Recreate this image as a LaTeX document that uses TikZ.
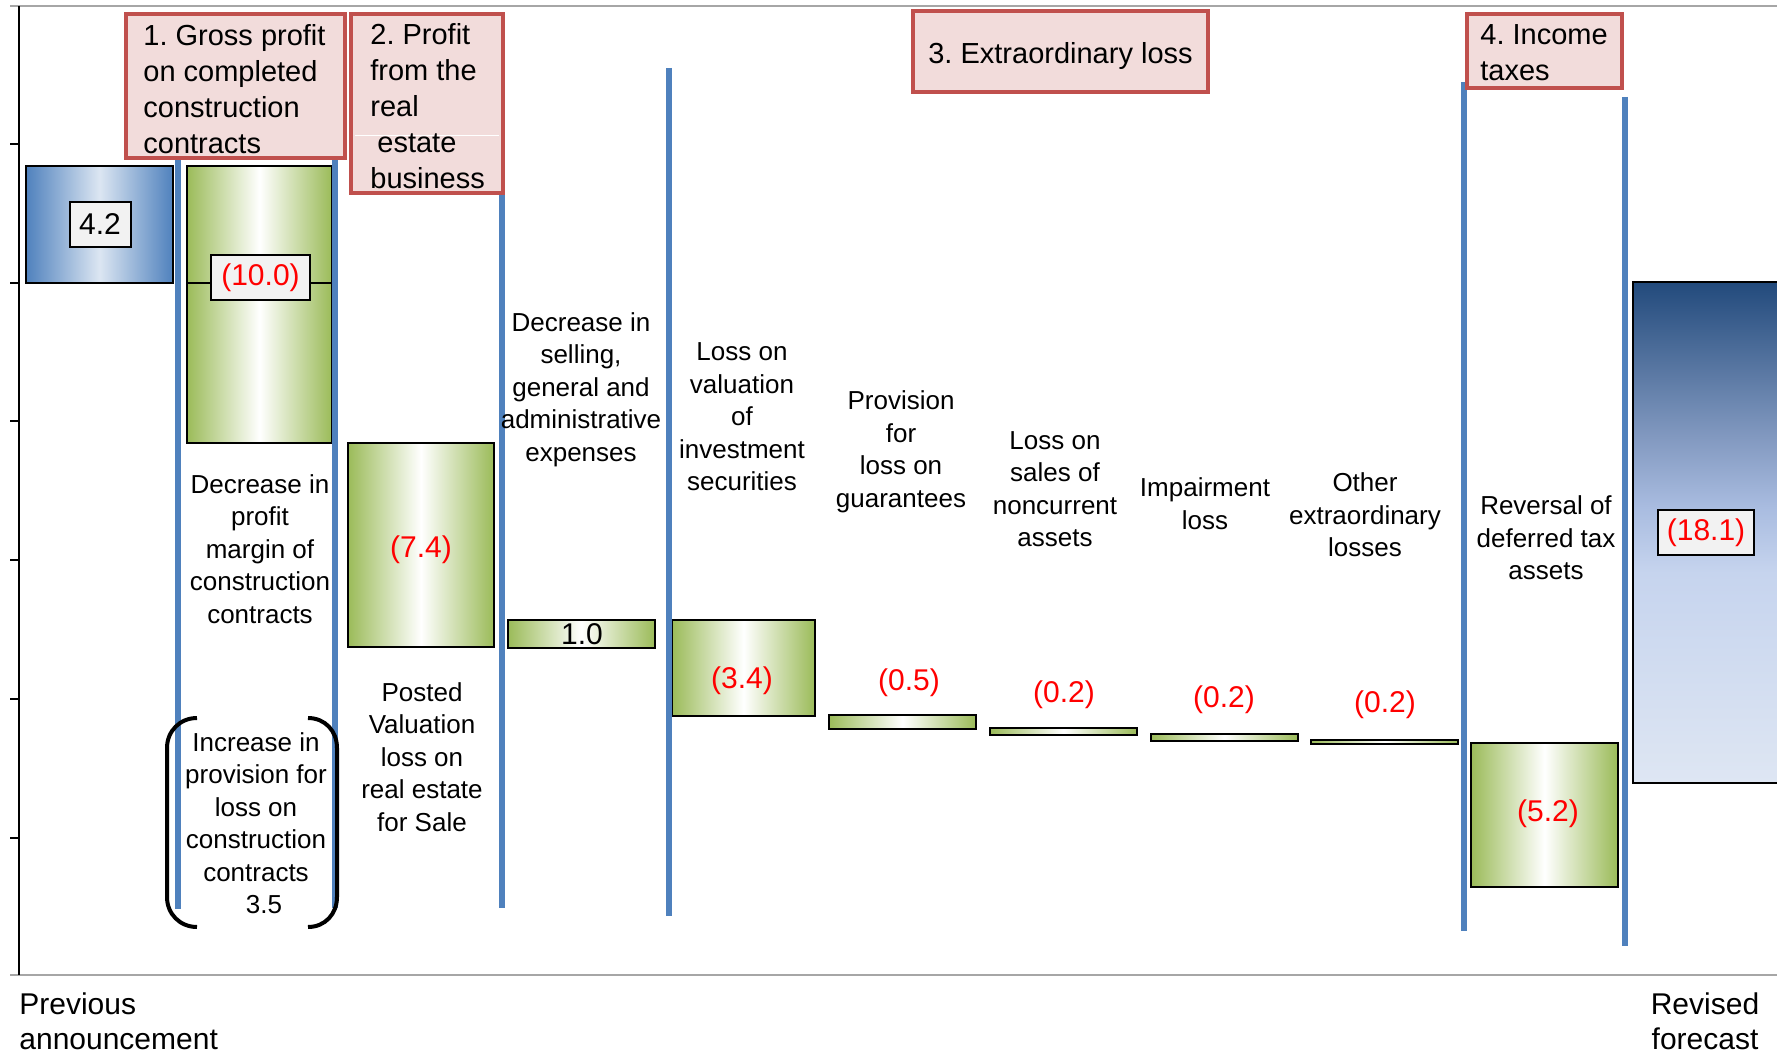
\documentclass[tikz,border=0pt]{standalone}
\usepackage{fontspec}
\setmainfont{Liberation Sans}
\frenchspacing
\definecolor{bline}{HTML}{4F81BD}
\definecolor{gbar}{HTML}{9BBB59}
\definecolor{bdark}{HTML}{4F81BD}
\definecolor{blight}{HTML}{DCE6F2}
\definecolor{revA}{HTML}{224A7C}
\definecolor{revB}{HTML}{5A78A3}
\definecolor{revC}{HTML}{8299C0}
\definecolor{revD}{HTML}{A9BCE0}
\definecolor{revE}{HTML}{C6D4EE}
\definecolor{revF}{HTML}{DEE6F3}
\definecolor{boxfill}{HTML}{F2DCDB}
\definecolor{boxdraw}{HTML}{C0504D}
\definecolor{lblfill}{HTML}{F2F2F2}
\definecolor{axgray}{HTML}{A6A6A6}
\pgfdeclareverticalshading{revshade}{100bp}{color(0bp)=(revF); color(25bp)=(revF); color(46bp)=(revE); color(52.5bp)=(revD); color(59.5bp)=(revC); color(66bp)=(revB); color(75bp)=(revA); color(100bp)=(revA)}
\begin{document}
\frenchspacing
\begin{tikzpicture}[x=0.5pt,y=-0.5pt,
  gbarstyle/.style={draw=black, line width=1pt, left color=gbar, right color=gbar, middle color=white},
  vline/.style={draw=bline, line width=3pt},
  titlebox/.style={draw=boxdraw, fill=boxfill, line width=1.7pt},
  titletext/.style={inner sep=0pt, align=left, font=\fontsize{14.5}{18}\selectfont},
  cattext/.style={inner sep=0pt, align=center, font=\fontsize{13}{16.25}\selectfont},
  valtext/.style={inner sep=0pt, text=red, font=\fontsize{15}{18}\selectfont},
  valbox/.style={draw=black, fill=lblfill, line width=1pt, inner sep=0pt, minimum height=22.5pt, font=\fontsize{15}{18}\selectfont},
  bottomtext/.style={inner sep=0pt, font=\fontsize{15}{17.5}\selectfont},
  bracketline/.style={draw=black, line width=2pt},
  axisline/.style={draw=axgray, line width=1pt}
]
\useasboundingbox (0,0) rectangle (1777,1053);
\clip (0,0) rectangle (1777,1053);
\fill[white] (0,0) rectangle (1777,1053);

% axes
\draw[axisline] (10,6) -- (1777,6);
\draw[axisline] (10,975) -- (1777,975);
\draw[black, line width=1pt] (19,6) -- (19,975);
\foreach \ty in {144,283,421,560,699,838}
  \draw[black, line width=1pt] (10,\ty) -- (19,\ty);

% bars
\path[draw=black, line width=1pt, left color=bdark, right color=bdark, middle color=blight] (26,166) rectangle (173,283);
\path[gbarstyle] (187,166) rectangle (332,443);
\path[gbarstyle] (348,443) rectangle (494,647);
\path[gbarstyle] (508,620) rectangle (655,648);
\path[gbarstyle] (672,620) rectangle (815,716);
\path[gbarstyle] (829,715) rectangle (976,729);
\path[gbarstyle] (990,728) rectangle (1137,735);
\path[gbarstyle] (1151,734) rectangle (1298,741);
\path[gbarstyle] (1311,740) rectangle (1458,744);
\path[gbarstyle] (1471,743) rectangle (1618,887);
\path[draw=black, line width=1pt, shading=revshade] (1633,282) rectangle (1800,783);

% connector through first green bar
\coordinate (c1) at (187,283);
\coordinate (c2) at (332,283);
\draw[black, line width=1pt] (c1) -- (c2);

% blue separators
\draw[vline] (178,160) -- (178,909);
\draw[vline] (335,160) -- (335,908);
\draw[vline] (502,57) -- (502,908);
\draw[vline] (669,68) -- (669,916);
\draw[vline] (1464,82) -- (1464,931);
\draw[vline] (1625,97) -- (1625,946);

% title boxes
\draw[titlebox] (126,14) rectangle (345,158);
\node[titletext, anchor=west] (t1) at (143,89) {1. Gross profit\\on completed\\construction\\contracts};
\draw[titlebox] (351,14) rectangle (503,193);
\draw[white, line width=0.5pt] (355,136) -- (499,136);
\node[titletext, anchor=west] (t2) at (370,106.5) {2. Profit\\from the\\real\\\hspace*{3.5pt}estate\\business};
\draw[titlebox] (913,11) rectangle (1208,92);
\node[titletext] (t3) at (1060.5,56) {3. Extraordinary loss};
\draw[titlebox] (1467,14) rectangle (1622,88);
\node[titletext, anchor=west] (t4) at (1480,53) {4. Income\\taxes};

% category labels
\node[cattext] (lprofit) at (260,549) {Decrease in\\profit\\margin of\\construction\\contracts};
\node[cattext] (lincr) at (256,823) {Increase in\\provision for\\loss on\\construction\\contracts\\\hspace*{8pt}3.5};
\node[cattext] (lposted) at (422,757) {Posted\\Valuation\\loss on\\real estate\\for Sale};
\node[cattext] (lsga) at (581,389.5) {Decrease in\\selling,\\general and\\administrative\\expenses};
\node[cattext] (lval) at (742,417) {Loss on\\valuation\\of\\investment\\securities};
\node[cattext] (lprov) at (901,452) {Provision\\for\\loss on\\guarantees};
\node[cattext] (lsales) at (1055,489) {Loss on\\sales of\\noncurrent\\assets};
\node[cattext] (limp) at (1205,503.5) {Impairment\\loss};
\node[cattext] (lother) at (1365,515) {Other\\extraordinary\\losses};
\node[cattext] (lrev) at (1546,538) {Reversal of\\deferred tax\\assets};

% brackets
\draw[bracketline] (197,718) .. controls (180,718) and (167,731) .. (167,748) -- (167,897) .. controls (167,914) and (180,927) .. (197,927);
\draw[bracketline] (308,718) .. controls (325,718) and (337,731) .. (337,748) -- (337,897) .. controls (337,914) and (325,927) .. (308,927);

% value labels
\node[valbox, minimum width=30.5pt] (v42) at (100,224.5) {4.2};
\node[valbox, minimum width=49.5pt, text=red] (v100) at (260.5,277.5) {\raisebox{-1.5pt}{(10.0)}};
\node[valbox, minimum width=48pt, text=red] (v181) at (1706,532.5) {\raisebox{-1.5pt}{(18.1)}};
\node[valtext] (v74) at (421,550) {(7.4)};
\node[valtext, text=black] (v10) at (582,634) {1.0};
\node[valtext] (v34) at (742,681) {(3.4)};
\node[valtext] (v05) at (909,683) {(0.5)};
\node[valtext] (v02a) at (1064,694.5) {(0.2)};
\node[valtext] (v02b) at (1224,699.5) {(0.2)};
\node[valtext] (v02c) at (1385,704.5) {(0.2)};
\node[valtext] (v52) at (1548,814) {(5.2)};

% bottom labels
\node[bottomtext, align=left, anchor=west] (prev) at (19,1021.5) {Previous\\announcement};
\node[bottomtext, align=center] (revd) at (1705,1021.5) {Revised\\forecast};
\end{tikzpicture}
\end{document}
